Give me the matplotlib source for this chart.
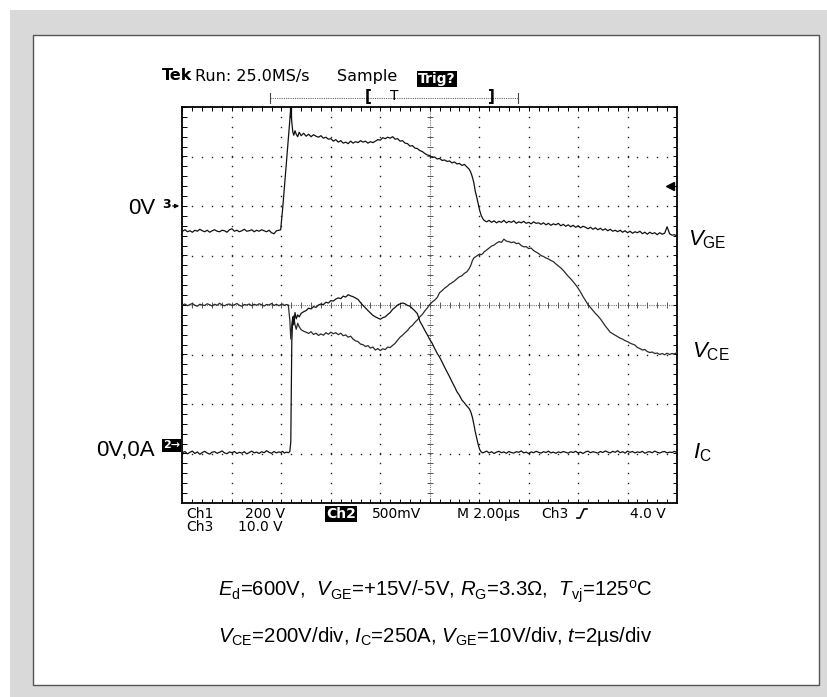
import numpy as np
import matplotlib.pyplot as plt
from matplotlib.patches import Rectangle

plt.rcParams['font.family'] = ['Liberation Sans', 'DejaVu Sans']
plt.rcParams['mathtext.fontset'] = 'custom'
plt.rcParams['mathtext.rm'] = 'Liberation Sans'
plt.rcParams['mathtext.it'] = 'Liberation Sans:italic'

# sample times (µs, 2 µs/div) and the three channels
t_us = [
    0.0, 0.1, 0.2, 0.3, 0.4, 0.5, 0.6, 0.7, 0.8, 0.9,
    1.0, 1.1, 1.2, 1.3, 1.4, 1.5, 1.6, 1.7, 1.8, 1.9,
    2.0, 2.1, 2.2, 2.3, 2.4, 2.5, 2.6, 2.7, 2.8, 2.9,
    3.0, 3.1, 3.2, 3.3, 3.4, 3.5, 3.6, 3.7, 3.8, 3.9,
    3.97, 4.05, 4.12, 4.2, 4.28, 4.34, 4.38, 4.42, 4.46, 4.5,
    4.55, 4.6, 4.66, 4.72, 4.8, 4.9,
    5.0, 5.1, 5.2, 5.3, 5.4, 5.5, 5.6, 5.7, 5.8, 5.9,
    6.0, 6.1, 6.2, 6.3, 6.4, 6.5, 6.6, 6.7, 6.8, 6.9,
    7.0, 7.1, 7.2, 7.3, 7.4, 7.5, 7.6, 7.7, 7.8, 7.9,
    8.0, 8.1, 8.2, 8.3, 8.4, 8.5, 8.6, 8.7, 8.8, 8.9,
    9.0, 9.1, 9.2, 9.3, 9.4, 9.5, 9.6, 9.7, 9.8, 9.9,
    10.0, 10.1, 10.2, 10.3, 10.4, 10.5, 10.6, 10.7, 10.8, 10.9,
    11.0, 11.1, 11.2, 11.3, 11.4, 11.5, 11.6,
    11.66, 11.72, 11.78, 11.84, 11.9, 11.96, 12.02, 12.08, 12.15,
    12.2, 12.3, 12.4, 12.5, 12.6, 12.7, 12.8, 12.9, 13.0, 13.1,
    13.2, 13.3, 13.4, 13.5, 13.6, 13.7, 13.8, 13.9, 14.0, 14.1,
    14.2, 14.3, 14.4, 14.5, 14.6, 14.7, 14.8, 14.9, 15.0, 15.1,
    15.2, 15.3, 15.4, 15.5, 15.6, 15.7, 15.8, 15.9, 16.0, 16.1,
    16.2, 16.3, 16.4, 16.5, 16.6, 16.7, 16.8, 16.9, 17.0, 17.1,
    17.2, 17.3, 17.4, 17.5, 17.6, 17.7, 17.8, 17.9, 18.0, 18.1,
    18.2, 18.3, 18.4, 18.5, 18.6, 18.7, 18.8, 18.9, 19.0, 19.1,
    19.2, 19.3, 19.4, 19.5, 19.6, 19.7, 19.8, 19.9, 20.0,
]

vge_v = [
    -5.1, -4.8, -5.2, -5.0, -5.3, -4.9, -5.1, -4.7, -5.0, -5.2,
    -4.9, -5.3, -5.0, -4.8, -5.1, -5.2, -4.9, -5.0, -5.3, -4.8,
    -4.6, -5.1, -4.9, -5.2, -5.0, -4.7, -5.1, -5.0, -4.8, -5.2,
    -4.9, -5.1, -4.8, -5.0, -5.2, -4.9, -5.4, -5.6, -5.0, -4.9,
    -4.8, -0.6, 3.8, 8.6, 13.5, 17.2, 19.8, 17.0, 15.0, 14.3,
    15.2, 14.5, 14.0, 14.9, 14.2, 14.7,
    14.1, 14.5, 14.0, 14.4, 14.1, 13.9, 14.2, 13.7, 13.9, 13.5,
    13.6, 13.1, 13.4, 12.9, 13.2, 12.7, 12.9, 12.6, 13.1, 12.7,
    13.0, 12.8, 13.2, 12.9, 13.1, 12.7, 13.0, 12.8, 13.1, 13.4,
    13.3, 13.8, 13.6, 13.9, 13.7, 14.0, 13.5, 13.6, 13.1, 13.2,
    12.7, 12.6, 12.1, 12.2, 11.7, 11.6, 11.2, 11.0, 10.6, 10.3,
    10.2, 9.8, 9.9, 9.5, 9.6, 9.2, 9.3, 9.0, 9.1, 8.7,
    8.9, 8.5, 8.6, 8.2, 8.4, 7.9, 7.4,
    6.8, 5.9, 4.8, 3.0, 1.8, 0.4, -0.9, -1.9, -2.6,
    -2.9, -3.2, -2.9, -3.3, -3.0, -3.4, -3.1, -3.3, -2.9, -3.4,
    -3.1, -3.3, -3.0, -3.5, -3.2, -3.4, -3.1, -3.5, -3.3, -3.6,
    -3.2, -3.5, -3.4, -3.7, -3.4, -3.8, -3.5, -3.9, -3.6, -3.8,
    -3.5, -4.0, -3.7, -4.1, -3.8, -4.2, -3.9, -4.3, -4.0, -4.4,
    -4.1, -4.3, -4.6, -4.3, -4.7, -4.4, -4.8, -4.5, -4.9, -4.6,
    -5.0, -4.7, -5.1, -4.9, -5.2, -4.9, -5.3, -5.0, -5.4, -5.1,
    -5.5, -5.2, -5.4, -5.1, -5.6, -5.3, -5.7, -5.3, -5.6, -5.4,
    -5.8, -5.4, -5.7, -5.5, -4.2, -5.6, -5.9, -5.8, -6.1,
]

vce_v = [
    600, 604, 597, 602, 606, 599, 595, 603, 600, 598,
    605, 601, 596, 603, 599, 607, 600, 597, 602, 604,
    598, 601, 606, 599, 595, 602, 600, 604, 597, 603,
    599, 605, 601, 596, 602, 600, 606, 598, 603, 597,
    601, 604, 598, 602, 600, 540, 462, 520, 550, 556,
    520, 502, 526, 512, 500, 494,
    490, 485, 492, 481, 486, 477, 483, 478, 488, 482,
    490, 484, 488, 480, 486, 476, 479, 470, 474, 462,
    455, 452, 442, 440, 432, 436, 426, 430, 418, 424,
    416, 423, 420, 430, 428, 437, 445, 458, 470, 478,
    488, 497, 510, 518, 530, 540, 552, 562, 576, 588,
    602, 612, 620, 630, 650, 658, 668, 675, 684, 690,
    697, 706, 714, 718, 728, 734, 748,
    760, 778, 790, 794, 798, 802, 806, 803, 808,
    815, 822, 830, 838, 842, 850, 856, 853, 866, 858,
    856, 852, 855, 848, 850, 840, 835, 836, 828, 830,
    820, 814, 808, 800, 796, 790, 786, 780, 775, 766,
    758, 750, 740, 728, 716, 706, 694, 682, 668, 652,
    634, 618, 602, 590, 578, 566, 556, 544, 530, 515,
    503, 490, 484, 478, 472, 466, 462, 456, 452, 446,
    442, 438, 428, 424, 418, 420, 412, 408, 410, 404,
    406, 400, 404, 399, 405, 400, 404, 402, 408,
]

ic_a = [
    4, 10, -2, 6, 12, 0, 8, -4, 5, 11,
    2, -3, 7, 9, 1, 6, 13, 3, -1, 8,
    4, 10, 0, 6, 2, 9, -2, 5, 12, 3,
    7, 0, 9, 4, 14, 6, 1, 10, 3, 8,
    5, 11, 2, 7, 4, 9, 60, 560, 690, 650,
    712, 680, 700, 690, 708, 716,
    722, 734, 730, 742, 738, 750, 755, 752, 764, 760,
    772, 770, 780, 786, 782, 795, 790, 802, 796, 792,
    785, 778, 762, 748, 735, 722, 710, 698, 690, 684,
    678, 686, 690, 702, 712, 728, 738, 750, 756, 760,
    756, 748, 744, 732, 720, 706, 668, 646, 622, 600,
    576, 556, 530, 506, 486, 462, 436, 412, 388, 362,
    338, 312, 294, 270, 256, 240, 226,
    210, 185, 150, 110, 78, 45, 20, 8, 3,
    6, 12, 3, 9, 0, 7, 11, 4, 8, 1,
    10, 5, 2, 9, 6, 13, 3, 7, 0, 8,
    4, 11, 6, 2, 9, 5, 12, 3, 7, 1,
    8, 4, 10, 6, 2, 9, 5, 11, 3, 7,
    0, 8, 12, 4, 9, 6, 2, 10, 5, 13,
    7, 3, 11, 6, 14, 4, 9, 2, 12, 6,
    10, 3, 8, 5, 11, 1, 7, 9, 4, 12,
    6, 2, 8, 10, 3, 7, 5, 11, 4,
]

# scope settings: units per division and zero level (divisions from centre)
VGE_DIV, VGE_ZERO = 10.0, 2
VCE_DIV, VCE_ZERO = 200.0, -3
IC_DIV, IC_ZERO = 250.0, -3
TRIG_LEVEL = 4.0   # V on ch3
TRIG_POS = 4.4     # µs

W, H = 828, 697
fig = plt.figure(figsize=(W / 100, H / 100), dpi=100)

# background / frame, in pixel coordinates
bg = fig.add_axes([0, 0, 1, 1])
bg.set_xlim(0, W)
bg.set_ylim(H, 0)
bg.axis('off')
bg.add_patch(Rectangle((10, 10), W - 10, H - 10, fc='#d9d9d9', ec='none'))
bg.add_patch(Rectangle((33, 35), 786, 650, fc='white', ec='#555555', lw=1.0))

# scope screen: 10 x 8 divisions
ax = fig.add_axes([182.5 / W, 1 - 503 / H, 494.5 / W, 396 / H])
ax.set_xlim(0, 20)
ax.set_ylim(-4, 4)
ax.set_xticks([])
ax.set_yticks([])
ax.patch.set_alpha(0)
for s in ax.spines.values():
    s.set_linewidth(1.3)

dots = dict(ls='none', marker='s', ms=1.0, mew=0, color='#222222')
col_y = np.arange(-4, 4.001, 0.2)
row_x = np.arange(0, 20.001, 0.4)
for gx in [2, 4, 6, 8, 12, 14, 16, 18]:
    ax.plot(np.full_like(col_y, gx), col_y, **dots)
for gy in [-3, -2, -1, 1, 2, 3]:
    ax.plot(row_x, np.full_like(row_x, gy), **dots)

# centre cross with fine ticks
ax.axvline(10, color='#777777', lw=0.8, ls=(0, (1, 1)))
ax.axhline(0, color='#777777', lw=0.8, ls=(0, (1, 1)))
ax.hlines(col_y, 10 - 0.13, 10 + 0.13, color='#555555', lw=0.7)
ax.vlines(row_x, -0.07, 0.07, color='#555555', lw=0.7)

# edge ticks
ax.vlines(row_x, 4 - 0.09, 4, color='k', lw=0.7)
ax.vlines(row_x, -4, -4 + 0.09, color='k', lw=0.7)
ax.hlines(col_y, 0, 0.17, color='k', lw=0.7)
ax.hlines(col_y, 20 - 0.17, 20, color='k', lw=0.7)
ax.vlines(TRIG_POS, 4 - 0.22, 4, color='k', lw=1.6)


def channel_axis(per_div, zero):
    a = ax.twinx()
    a.set_ylim((-4 - zero) * per_div, (4 - zero) * per_div)
    a.axis('off')
    return a


ax_vge = channel_axis(VGE_DIV, VGE_ZERO)
ax_vce = channel_axis(VCE_DIV, VCE_ZERO)
ax_ic = channel_axis(IC_DIV, IC_ZERO)

ax_vge.plot(t_us, vge_v, color='#111111', lw=0.9)
ax_vce.plot(t_us, vce_v, color='#2a2a2a', lw=0.9)
ax_ic.plot(t_us, ic_a, color='#111111', lw=0.9)
ax_vge.plot(19.72, TRIG_LEVEL, marker='<', ms=6, color='k', clip_on=False)


def zero_px(a):
    return H - a.transData.transform((0, 0))[1]


y3 = zero_px(ax_vge)
y2 = zero_px(ax_ic)

# left channel markers
bg.text(155, y3 + 2, '0V', fontsize=16, ha='right', va='center')
bg.text(162, y3 - 1, '3', fontsize=9, fontweight='bold', family='DejaVu Sans',
        ha='left', va='center')
bg.annotate('', xy=(182, y3), xytext=(170, y3),
            arrowprops=dict(arrowstyle='-|>', lw=0.9, color='k', mutation_scale=6))
bg.text(155, y2 - 3, '0V,0A', fontsize=16, ha='right', va='center')
bg.text(171.5, y2 - 8, '2\u2192', fontsize=8, fontweight='bold', color='white',
        family='DejaVu Sans', ha='center', va='center',
        bbox=dict(boxstyle='square,pad=0.12', fc='black', ec='none'))

# right trace labels
bg.text(688, 240, r'$V_{\mathrm{GE}}$', fontsize=16, va='center')
bg.text(692, 352, r'$V_{\mathrm{CE}}$', fontsize=16, va='center')
bg.text(693, 453, r'$I_{\mathrm{C}}$', fontsize=16, va='center')

# scope header
hdr = dict(family='DejaVu Sans', fontsize=11.5, va='center')
bg.text(162, 76, 'Tek', fontweight='bold', **hdr)
bg.text(195, 76, 'Run: 25.0MS/s', **hdr)
bg.text(337, 76, 'Sample', **hdr)
bg.text(418, 79, 'Trig?', color='white', fontweight='bold', family='DejaVu Sans',
        fontsize=10, va='center',
        bbox=dict(boxstyle='square,pad=0.1', fc='black', ec='none'))
bg.plot([270, 518], [98, 98], color='#666666', lw=0.8, ls=(0, (1, 1)))
bg.plot([270, 270], [93, 103], color='#444444', lw=0.8)
bg.plot([518, 518], [93, 103], color='#444444', lw=0.8)
bg.text(368, 96, '[', family='DejaVu Sans', fontsize=11, fontweight='bold',
        ha='center', va='center')
bg.text(394, 96, 'T', family='DejaVu Sans', fontsize=10, ha='center', va='center')
bg.text(491, 96, ']', family='DejaVu Sans', fontsize=11, fontweight='bold',
        ha='center', va='center')

# scope status line
st = dict(family='DejaVu Sans', fontsize=10, va='center')
bg.text(186, 514, 'Ch1', **st)
bg.text(245, 514, '200 V', **st)
bg.text(326, 514, 'Ch2', color='white', fontweight='bold',
        bbox=dict(boxstyle='square,pad=0.1', fc='black', ec='none'), **st)
bg.text(372, 514, '500mV', **st)
bg.text(457, 514, 'M 2.00\u00b5s', **st)
bg.text(541, 514, 'Ch3', **st)
bg.plot([577, 580, 584, 587], [518, 518, 509, 509], color='k', lw=1.2)
bg.text(630, 514, '4.0 V', **st)
bg.text(186, 527, 'Ch3', **st)
bg.text(238, 527, '10.0 V', **st)

# test conditions
cap = dict(fontsize=14.7, va='center', ha='left')
bg.text(218, 592, r'$E_{\mathrm{d}}$=600V,  $V_{\mathrm{GE}}$=+15V/-5V, '
        r'$R_{\mathrm{G}}$=3.3Ω,  $T_{\mathrm{vj}}$=125$^{\mathrm{o}}$C', **cap)
bg.text(218, 636, r'$V_{\mathrm{CE}}$=200V/div, $I_{\mathrm{C}}$=250A, '
        r'$V_{\mathrm{GE}}$=10V/div, $t$=2µs/div', **cap)

fig.savefig('out.png', dpi=100)
